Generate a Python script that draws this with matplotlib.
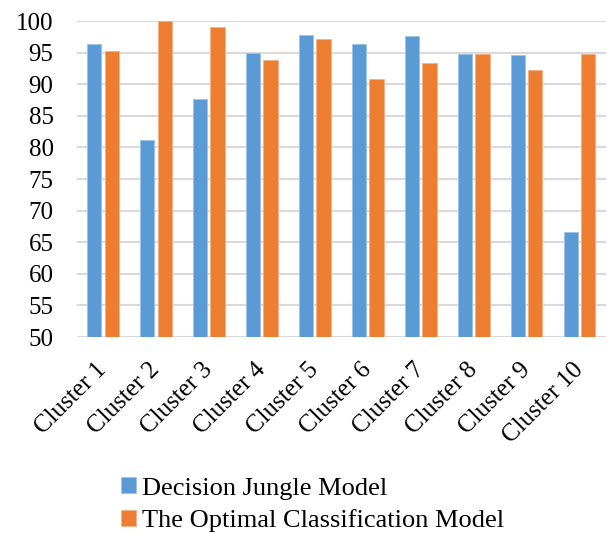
import numpy as np
import matplotlib.pyplot as plt

plt.rcParams['font.family'] = ['Liberation Serif', 'DejaVu Serif']

clusters = ['Cluster 1', 'Cluster 2', 'Cluster 3', 'Cluster 4', 'Cluster 5',
            'Cluster 6', 'Cluster 7', 'Cluster 8', 'Cluster 9', 'Cluster 10']
jungle = [96.4, 81.2, 87.6, 95.0, 97.8, 96.3, 97.7, 94.85, 94.6, 66.65]
optimal = [95.2, 100.0, 99.1, 93.9, 97.1, 90.9, 93.4, 94.85, 92.25, 94.85]

fig = plt.figure(figsize=(6.07, 5.33), dpi=100)
ax = fig.add_axes([76.5 / 607, 1 - 337 / 533, (606 - 76.5) / 607, (337 - 21) / 533])

x = np.arange(len(clusters))
w = 0.27
ax.bar(x - 0.165, jungle, w, color='#5B9BD5', edgecolor='#9DC3E6', linewidth=0.6,
       label='Decision Jungle Model', zorder=3)
ax.bar(x + 0.165, optimal, w, color='#ED7D31', edgecolor='#F4B183', linewidth=0.6,
       label='The Optimal Classification Model', zorder=3)

ax.set_ylim(50, 100)
ax.set_xlim(-0.5, len(clusters) - 0.5)
ax.set_yticks(np.arange(50, 101, 5))
ax.set_xticks(x)
ax.set_xticklabels(clusters, rotation=45, ha='right', va='center', rotation_mode='anchor')
ax.tick_params(axis='both', length=0, labelsize=18)
ax.tick_params(axis='y', pad=16.5)
ax.tick_params(axis='x', pad=21)
ax.grid(axis='y', color='#d9d9d9', linewidth=1.5, zorder=0)
for s in ax.spines.values():
    s.set_visible(False)

fig.legend(loc='upper left', bbox_to_anchor=(108 / 607, 1 - 464 / 533), frameon=False,
           fontsize=19, handlelength=0.57, handleheight=0.57, handletextpad=0.2,
           labelspacing=0.36, borderpad=0)

fig.savefig('out.png', dpi=100)
